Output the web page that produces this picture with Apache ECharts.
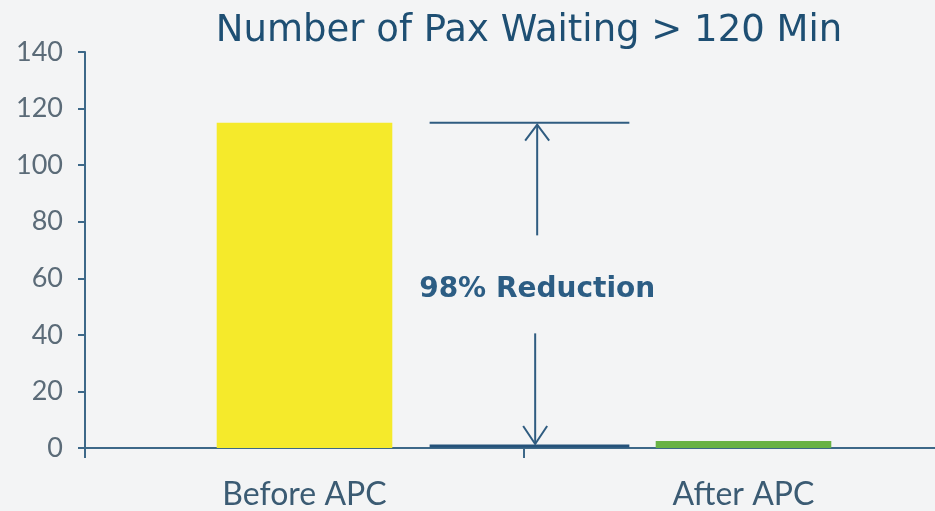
<!DOCTYPE html>
<html>
<head>
<meta charset="utf-8">
<script src="https://cdn.jsdelivr.net/npm/echarts@6/dist/echarts.min.js"></script>
<style>
  html, body { margin: 0; padding: 0; background: #f3f4f5; }
  #chart { width: 935px; height: 511px; }
</style>
</head>
<body>
<div id="chart"></div>
<script>
// data
const categories = ['Before APC', 'After APC'];
const paxWaiting = [115, 2.5];
const yTicks = [0, 20, 40, 60, 80, 100, 120, 140];
const reductionLabel = '98% Reduction';
// annotation: span in category units (0..2), arrow position, top / bottom levels
const spanX = [0.785, 1.24];
const arrowX = 1.03;
const levels = [115, 0.7];

const myChart = echarts.init(document.getElementById('chart'));

const axisColor = '#3d6888';

const option = {
  backgroundColor: '#f3f4f5',
  animation: false,
  title: {
    text: 'Number of Pax Waiting > 120 Min',
    left: 524,
    top: 8,
    textAlign: 'center',
    textStyle: {
      fontFamily: 'DejaVu Sans',
      fontWeight: 'normal',
      fontSize: 37,
      color: '#1e4f73'
    }
  },
  grid: {
    left: 85,
    top: 52,
    width: 878,
    bottom: 63,
    containLabel: false,
    outerBoundsMode: 'none'
  },
  xAxis: [
    {
      type: 'category',
      data: categories,
      axisLine: { lineStyle: { color: axisColor, width: 2 } },
      axisTick: { show: true, length: 10, lineStyle: { color: axisColor, width: 2 } },
      axisLabel: {
        margin: 31,
        fontFamily: 'Lato',
        fontSize: 32,
        color: '#3b5b73'
      }
    },
    {
      type: 'value',
      min: 0,
      max: 2,
      show: false
    }
  ],
  yAxis: {
    type: 'value',
    min: 0,
    max: 140,
    interval: 20,
    splitLine: { show: false },
    axisLine: { show: true, lineStyle: { color: axisColor, width: 2 } },
    axisTick: { show: true, length: 7, lineStyle: { color: axisColor, width: 2 } },
    axisLabel: {
      margin: 22,
      fontFamily: 'Lato',
      fontSize: 27,
      color: '#5b6b78',
      formatter: v => yTicks.includes(v) ? String(v) : ''
    }
  },
  series: [
    {
      type: 'bar',
      data: [
        { value: paxWaiting[0], itemStyle: { color: '#f5ea2b' } },
        { value: paxWaiting[1], itemStyle: { color: '#68b245' } }
      ],
      barWidth: '40%',
      z: 1
    },
    {
      type: 'custom',
      xAxisIndex: 1,
      yAxisIndex: 0,
      data: [[arrowX, levels[0]]],
      z: 3,
      renderItem: function (params, api) {
        const l = api.coord([spanX[0], levels[0]]);
        const r = api.coord([spanX[1], levels[0]]);
        const bl = api.coord([spanX[0], levels[1]]);
        const br = api.coord([spanX[1], levels[1]]);
        const top = api.coord([arrowX, levels[0]]);
        const bot = api.coord([arrowX, levels[1]]);
        const mid = (top[1] + bot[1]) / 2;
        const gap = 49;
        const s = { stroke: '#2f5c80', lineWidth: 2 };
        const h = 12;
        return {
          type: 'group',
          children: [
            { type: 'line', shape: { x1: l[0], y1: l[1], x2: r[0], y2: r[1] }, style: s },
            { type: 'line', shape: { x1: bl[0], y1: bl[1], x2: br[0], y2: br[1] }, style: { stroke: '#24527a', lineWidth: 3 } },
            { type: 'line', shape: { x1: top[0], y1: top[1] + 2, x2: top[0], y2: mid - gap }, style: s },
            { type: 'polyline', shape: { points: [[top[0] - h, top[1] + h + 6], [top[0], top[1] + 2], [top[0] + h, top[1] + h + 6]] }, style: { stroke: '#2f5c80', lineWidth: 2, fill: null } },
            { type: 'line', shape: { x1: bot[0] - 2, y1: mid + gap, x2: bot[0] - 2, y2: bot[1] - 2 }, style: s },
            { type: 'polyline', shape: { points: [[bot[0] - 2 - h, bot[1] - h - 8], [bot[0] - 2, bot[1] - 2], [bot[0] - 2 + h, bot[1] - h - 8]] }, style: { stroke: '#2f5c80', lineWidth: 2, fill: null } },
            {
              type: 'text',
              x: top[0],
              y: mid + 5,
              style: {
                text: reductionLabel,
                fontFamily: 'DejaVu Sans',
                fontWeight: 'bold',
                fontSize: 28,
                fill: '#2c5d84',
                align: 'center',
                verticalAlign: 'middle'
              }
            }
          ]
        };
      }
    }
  ]
};

myChart.setOption(option);
</script>
</body>
</html>
